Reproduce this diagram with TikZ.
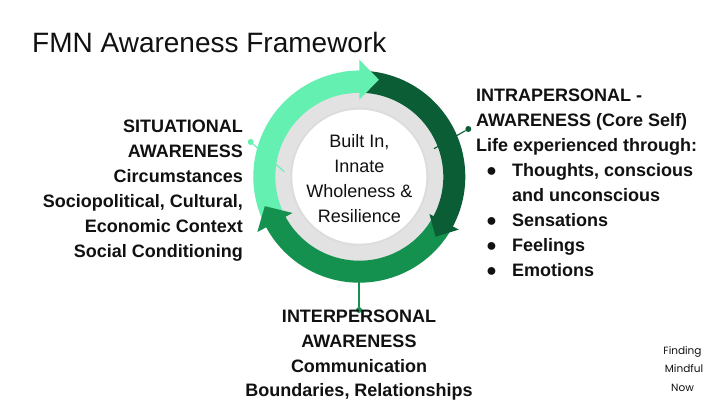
\documentclass[tikz,border=0pt]{standalone}
\usepackage{fontspec}
\setmainfont{Liberation Sans}
\newfontfamily\logofont{Poppins}
\definecolor{lightg}{HTML}{63F0B0}
\definecolor{midg}{HTML}{14914F}
\definecolor{darkg}{HTML}{0B5D35}
\definecolor{discg}{HTML}{E2E2E2}
\definecolor{inkk}{HTML}{111111}
\tikzset{
  x=1pt,y=1pt,
  bold18/.style={font=\fontsize{18}{24.9}\selectfont\bfseries,text=inkk,inner sep=0pt},
  centertxt/.style={font=\fontsize{18}{25}\selectfont,text=inkk,align=center,inner sep=0pt},
  logotxt/.style={anchor=center,inner sep=0pt,font=\fontsize{10.5}{10.5}\selectfont\logofont,text=inkk},
  dotnode/.style={circle,fill=#1,minimum size=6pt,inner sep=0pt},
  tick/.style={line width=1.1pt,draw=#1},
}
\newcommand{\bul}{\makebox[36pt][l]{\hspace{10pt}●}}
\begin{document}
\begin{tikzpicture}
\useasboundingbox (0,0) rectangle (720,405);
\fill[white] (0,0) rectangle (720,405);
\coordinate (c) at (359.3,228.3);
\node[anchor=base west,inner sep=0pt,font=\fontsize{28}{32}\selectfont,text=inkk] (title) at (32,352.5) {FMN Awareness Framework};
% disc
\fill[discg] (c) circle (85);
% connectors behind the ring
\coordinate (lin) at (284.3,233.3);
\coordinate (din) at (434,256.3);
\coordinate (min) at (359,125);
\node[dotnode=lightg] (ldot) at (250.7,263) {};
\node[dotnode=darkg] (ddot) at (468.3,276) {};
\node[dotnode=midg] (mdot) at (359,95) {};
\draw[tick=lightg] (ldot) -- (lin);
\draw[tick=darkg] (ddot) -- (din);
\draw[tick=midg] (mdot) -- (min);
% inner disc
\fill[black!30,opacity=0.12] (c) circle (69);
\node[circle,fill=white,minimum size=134pt,inner sep=0pt] (hub) at (c) {};
\begin{scope}[shift={(359.3,228.3)}]
% light arrow body
\fill[lightg] (203:106) arc[start angle=203,end angle=90,radius=106] -- (90:84) arc[start angle=90,end angle=203,radius=84] -- cycle;
% mid arrow
\fill[midg] (-30:106) arc[start angle=-30,end angle=-151.5,radius=106] -- (208.5:116) -- (197.3:99) -- (208.5:76) -- (208.5:84) arc[start angle=-151.5,end angle=-30,radius=84] -- cycle;
% dark arrow
\fill[darkg] (88:106) arc[start angle=88,end angle=-28,radius=106] -- (-28:112.7) -- (-38.2:97) -- (-28:79.4) -- (-28:84) arc[start angle=-28,end angle=88,radius=84] -- cycle;
% light head on top
\fill[lightg] (100:106) arc[start angle=100,end angle=90,radius=106] -- (90:117) -- (78.6:99) -- (90:77) -- (90:84) arc[start angle=90,end angle=100,radius=84] -- cycle;
\end{scope}
\node[centertxt] (hubtxt) at (359.3,226.5) {Built In,\\Innate\\Wholeness \&\\Resilience};
\node[bold18,align=right,anchor=north east] (left) at (243,285) {SITUATIONAL\\AWARENESS\\Circumstances\\Sociopolitical, Cultural,\\Economic Context\\Social Conditioning};
\node[bold18,align=left,anchor=north west,font=\fontsize{18}{25.1}\selectfont\bfseries] (right) at (476,316.5) {INTRAPERSONAL -\\AWARENESS (Core Self)\\Life experienced through:\\\bul Thoughts, conscious\\\hspace{36pt}and unconscious\\\bul Sensations\\\bul Feelings\\\bul Emotions};
\node[bold18,align=center,anchor=north] (bottom) at (359,95.5) {INTERPERSONAL\\AWARENESS\\Communication\\Boundaries, Relationships};
\node[logotxt] (l1) at (682.5,53) {Finding};
\node[logotxt] (l2) at (684,36) {Mindful};
\node[logotxt] (l3) at (682.5,17) {Now};
\end{tikzpicture}
\end{document}
